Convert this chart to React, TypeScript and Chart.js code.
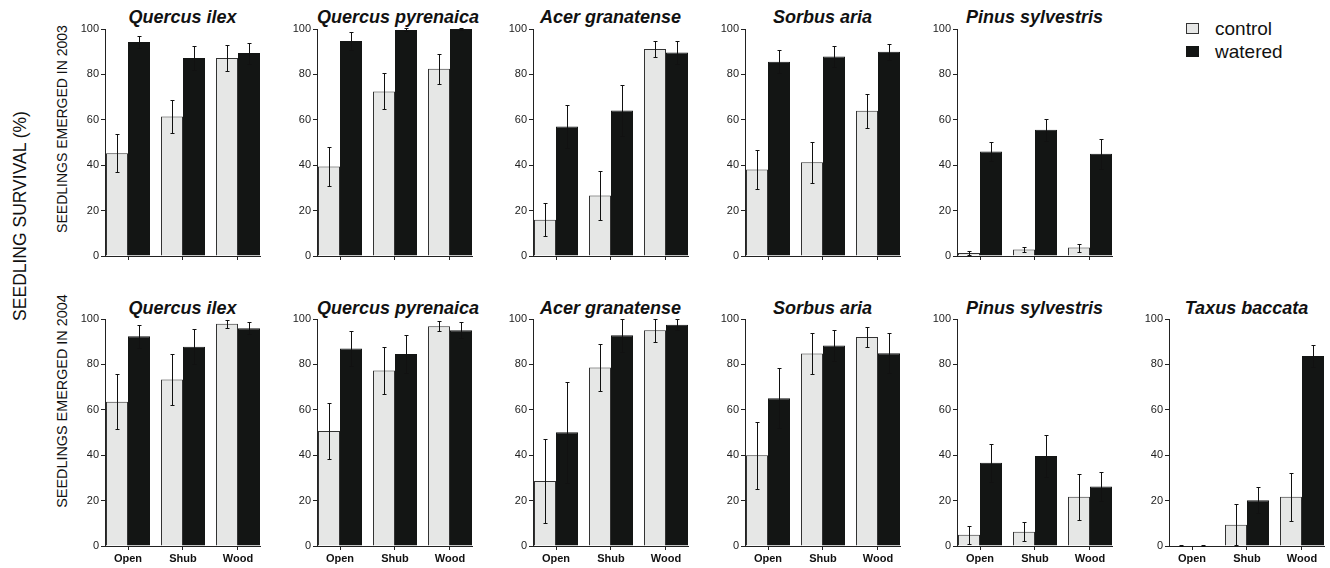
import React, { useEffect, useRef } from 'react';
import { Chart, registerables } from 'chart.js';

Chart.register(...registerables);

// ---------- DATA ----------
const categories = ['Open', 'Shub', 'Wood'];
const seriesNames = ['control', 'watered'];

const titlesTop = ['Quercus ilex', 'Quercus pyrenaica', 'Acer granatense', 'Sorbus aria', 'Pinus sylvestris'];
const titlesBottom = ['Quercus ilex', 'Quercus pyrenaica', 'Acer granatense', 'Sorbus aria', 'Pinus sylvestris', 'Taxus baccata'];

const yTicks = [0, 20, 40, 60, 80, 100];

// Seedlings emerged in 2003
const qIlex03Control = [45.3, 61.5, 87.2];
const qIlex03ControlErr = [8.5, 7.2, 5.6];
const qIlex03Watered = [94.3, 87.2, 89.4];
const qIlex03WateredErr = [2.6, 5.4, 4.6];

const qPyr03Control = [39.4, 72.5, 82.5];
const qPyr03ControlErr = [8.5, 7.9, 6.6];
const qPyr03Watered = [94.7, 99.6, 100];
const qPyr03WateredErr = [4.1, 0.7, 0.3];

const aGran03Control = [16, 26.6, 91.2];
const aGran03ControlErr = [7.2, 10.7, 3.6];
const aGran03Watered = [57.1, 64.1, 89.7];
const aGran03WateredErr = [9.5, 11.2, 5.2];

const sAria03Control = [38.1, 41.3, 64];
const sAria03ControlErr = [8.7, 9.1, 7.4];
const sAria03Watered = [85.6, 87.9, 90];
const sAria03WateredErr = [5, 4.6, 3.5];

const pSylv03Control = [1.3, 2.9, 3.7];
const pSylv03ControlErr = [0.8, 1.1, 1.8];
const pSylv03Watered = [46, 55.6, 45];
const pSylv03WateredErr = [4.3, 4.8, 6.5];

// Seedlings emerged in 2004
const qIlex04Control = [63.5, 73.3, 97.9];
const qIlex04ControlErr = [12.1, 11.2, 1.8];
const qIlex04Watered = [92.4, 87.8, 95.9];
const qIlex04WateredErr = [5.1, 7.8, 2.6];

const qPyr04Control = [50.7, 77.3, 96.8];
const qPyr04ControlErr = [12.5, 10.5, 2.3];
const qPyr04Watered = [87, 84.6, 95];
const qPyr04WateredErr = [7.7, 8.5, 3.5];

const aGran04Control = [28.6, 78.6, 95];
const aGran04ControlErr = [18.4, 10.2, 5.1];
const aGran04Watered = [50.1, 92.8, 97.5];
const aGran04WateredErr = [22.2, 7.2, 2.5];

const sAria04Control = [40, 84.8, 92.1];
const sAria04ControlErr = [14.8, 9.2, 4.4];
const sAria04Watered = [65.1, 88.3, 84.9];
const sAria04WateredErr = [13.2, 6.9, 8.8];

const pSylv04Control = [5, 6.3, 21.7];
const pSylv04ControlErr = [4, 4.3, 10.1];
const pSylv04Watered = [36.7, 39.6, 26.2];
const pSylv04WateredErr = [8.3, 9.2, 6.5];

const tBacc04Control = [0, 9.4, 21.7];
const tBacc04ControlErr = [0.3, 9, 10.5];
const tBacc04Watered = [0, 20.1, 83.7];
const tBacc04WateredErr = [0.3, 5.7, 4.9];

// ---------- STYLE / LAYOUT ----------
const FONT = '"Liberation Sans", Arial, Helvetica, sans-serif';
const CONTROL_FILL = '#e6e7e6';
const CONTROL_BORDER = '#333333';
const WATERED_FILL = '#131514';
const AXIS_COLOR = '#222';

const PLOT_W = 155;
const Y_AXIS_W = 45;
const PAD_RIGHT = 6;
const PAD_TOP = 10;
const PLOT_H = 227;
const CAT_PX = 55; // pixel spacing between category centres
const X_MIN = -23 / CAT_PX;
const X_MAX = X_MIN + PLOT_W / CAT_PX;
const panelLefts = [105, 317, 533, 745, 957, 1169];

type PanelProps = {
  axisX: number;
  top: number;
  showLabels: boolean;
  control: number[];
  controlErr: number[];
  watered: number[];
  wateredErr: number[];
};

function Panel({ axisX, top, showLabels, control, controlErr, watered, wateredErr }: PanelProps) {
  const ref = useRef<HTMLCanvasElement>(null);
  const xAxisH = showLabels ? 22 : 10;
  const width = Y_AXIS_W + PLOT_W + PAD_RIGHT;
  const height = PAD_TOP + PLOT_H + xAxisH;

  useEffect(() => {
    if (!ref.current) return;
    const errs = [controlErr, wateredErr];
    const errorBars = {
      id: 'errorBars',
      afterDatasetsDraw(chart: any) {
        const ctx = chart.ctx;
        const ys = chart.scales.y;
        ctx.save();
        ctx.strokeStyle = '#111';
        ctx.lineWidth = 1;
        chart.data.datasets.forEach((ds: any, di: number) => {
          const meta = chart.getDatasetMeta(di);
          meta.data.forEach((el: any, i: number) => {
            const v = ds.data[i].y;
            const e = errs[di][i];
            const x = Math.round(el.x) + 0.5;
            const yt = Math.round(ys.getPixelForValue(v + e)) + 0.5;
            const yb = Math.round(ys.getPixelForValue(Math.max(0, v - e))) + 0.5;
            ctx.beginPath();
            ctx.moveTo(x, yt);
            ctx.lineTo(x, yb);
            ctx.moveTo(x - 2, yt);
            ctx.lineTo(x + 2, yt);
            ctx.moveTo(x - 2, yb);
            ctx.lineTo(x + 2, yb);
            ctx.stroke();
          });
        });
        ctx.restore();
      },
    };

    const chart = new Chart(ref.current, {
      type: 'bar',
      data: {
        datasets: [
          {
            label: seriesNames[0],
            data: control.map((v, i) => ({ x: i, y: v })),
            backgroundColor: CONTROL_FILL,
            borderColor: CONTROL_BORDER,
            borderWidth: 1,
            categoryPercentage: 0.8,
            barPercentage: 1,
          },
          {
            label: seriesNames[1],
            data: watered.map((v, i) => ({ x: i, y: v })),
            backgroundColor: WATERED_FILL,
            borderColor: WATERED_FILL,
            borderWidth: 1,
            categoryPercentage: 0.8,
            barPercentage: 1,
          },
        ],
      } as any,
      options: {
        animation: false,
        responsive: false,
        devicePixelRatio: 1,
        layout: { padding: { top: PAD_TOP, right: PAD_RIGHT, left: 0, bottom: 0 } },
        plugins: {
          legend: { display: false },
          tooltip: { enabled: false },
          title: { display: false },
        },
        scales: {
          x: {
            type: 'linear',
            min: X_MIN,
            max: X_MAX,
            offset: false,
            afterBuildTicks: (s: any) => {
              s.ticks = categories.map((_, i) => ({ value: i }));
            },
            afterFit: (s: any) => {
              s.height = xAxisH;
            },
            grid: {
              display: true,
              offset: false,
              drawOnChartArea: false,
              drawTicks: true,
              tickLength: 4,
              color: AXIS_COLOR,
            },
            border: { display: true, color: AXIS_COLOR, width: 1 },
            ticks: {
              display: showLabels,
              autoSkip: false,
              maxRotation: 0,
              padding: 2,
              color: '#111',
              font: { family: FONT, size: 11, weight: 'bold' },
              callback: (v: any) => categories[v] ?? '',
            },
          },
          y: {
            min: 0,
            max: 100,
            afterBuildTicks: (s: any) => {
              s.ticks = yTicks.map((v) => ({ value: v }));
            },
            afterFit: (s: any) => {
              s.width = Y_AXIS_W;
            },
            grid: {
              display: true,
              drawOnChartArea: false,
              drawTicks: true,
              tickLength: 4,
              color: AXIS_COLOR,
            },
            border: { display: true, color: AXIS_COLOR, width: 1 },
            ticks: {
              padding: 2,
              color: '#222',
              font: { family: FONT, size: 11 },
            },
          },
        },
      } as any,
      plugins: [errorBars],
    });
    return () => chart.destroy();
  }, []);

  return (
    <canvas
      ref={ref}
      width={width}
      height={height}
      style={{
        position: 'absolute',
        left: axisX - Y_AXIS_W,
        top: top - PAD_TOP,
        width,
        height,
      }}
    />
  );
}

function Title({ axisX, centerY, text }: { axisX: number; centerY: number; text: string }) {
  return (
    <div
      style={{
        position: 'absolute',
        left: axisX,
        top: centerY - 10,
        width: PLOT_W,
        height: 20,
        lineHeight: '20px',
        textAlign: 'center',
        fontFamily: FONT,
        fontWeight: 'bold',
        fontStyle: 'italic',
        fontSize: 18,
        color: '#111',
        whiteSpace: 'nowrap',
      }}
    >
      {text}
    </div>
  );
}

function VLabel({ cx, cy, text, size }: { cx: number; cy: number; text: string; size: number }) {
  return (
    <div
      style={{
        position: 'absolute',
        left: cx,
        top: cy,
        transform: 'translate(-50%, -50%) rotate(-90deg)',
        fontFamily: FONT,
        fontSize: size,
        lineHeight: 1,
        color: '#111',
        whiteSpace: 'nowrap',
      }}
    >
      {text}
    </div>
  );
}

export default function App() {
  const TOP_ROW = 29;
  const BOTTOM_ROW = 319;
  const topPanels = [
    [qIlex03Control, qIlex03ControlErr, qIlex03Watered, qIlex03WateredErr],
    [qPyr03Control, qPyr03ControlErr, qPyr03Watered, qPyr03WateredErr],
    [aGran03Control, aGran03ControlErr, aGran03Watered, aGran03WateredErr],
    [sAria03Control, sAria03ControlErr, sAria03Watered, sAria03WateredErr],
    [pSylv03Control, pSylv03ControlErr, pSylv03Watered, pSylv03WateredErr],
  ];
  const bottomPanels = [
    [qIlex04Control, qIlex04ControlErr, qIlex04Watered, qIlex04WateredErr],
    [qPyr04Control, qPyr04ControlErr, qPyr04Watered, qPyr04WateredErr],
    [aGran04Control, aGran04ControlErr, aGran04Watered, aGran04WateredErr],
    [sAria04Control, sAria04ControlErr, sAria04Watered, sAria04WateredErr],
    [pSylv04Control, pSylv04ControlErr, pSylv04Watered, pSylv04WateredErr],
    [tBacc04Control, tBacc04ControlErr, tBacc04Watered, tBacc04WateredErr],
  ];

  return (
    <div
      style={{
        position: 'absolute',
        left: 0,
        top: 0,
        width: 1330,
        height: 568,
        background: '#fff',
        overflow: 'hidden',
      }}
    >
      <VLabel cx={21} cy={216} text="SEEDLING SURVIVAL (%)" size={17.5} />
      <VLabel cx={62} cy={129} text="SEEDLINGS EMERGED IN 2003" size={14} />
      <VLabel cx={62} cy={401} text="SEEDLINGS EMERGED IN 2004" size={14.4} />

      {topPanels.map((p, i) => (
        <React.Fragment key={'t' + i}>
          <Title axisX={panelLefts[i]} centerY={17} text={titlesTop[i]} />
          <Panel
            axisX={panelLefts[i]}
            top={TOP_ROW}
            showLabels={false}
            control={p[0]}
            controlErr={p[1]}
            watered={p[2]}
            wateredErr={p[3]}
          />
        </React.Fragment>
      ))}
      {bottomPanels.map((p, i) => (
        <React.Fragment key={'b' + i}>
          <Title axisX={panelLefts[i]} centerY={308} text={titlesBottom[i]} />
          <Panel
            axisX={panelLefts[i]}
            top={BOTTOM_ROW}
            showLabels={true}
            control={p[0]}
            controlErr={p[1]}
            watered={p[2]}
            wateredErr={p[3]}
          />
        </React.Fragment>
      ))}

      {/* legend */}
      {seriesNames.map((name, i) => (
        <React.Fragment key={name}>
          <div
            style={{
              position: 'absolute',
              left: 1186,
              top: 23 + i * 23,
              width: 11,
              height: 9,
              background: i === 0 ? CONTROL_FILL : WATERED_FILL,
              border: '1px solid ' + (i === 0 ? CONTROL_BORDER : WATERED_FILL),
            }}
          />
          <div
            style={{
              position: 'absolute',
              left: 1215,
              top: 29 + i * 22.5 - 11,
              height: 22,
              lineHeight: '22px',
              fontFamily: FONT,
              fontSize: 19,
              color: '#111',
              whiteSpace: 'nowrap',
            }}
          >
            {name}
          </div>
        </React.Fragment>
      ))}
    </div>
  );
}
